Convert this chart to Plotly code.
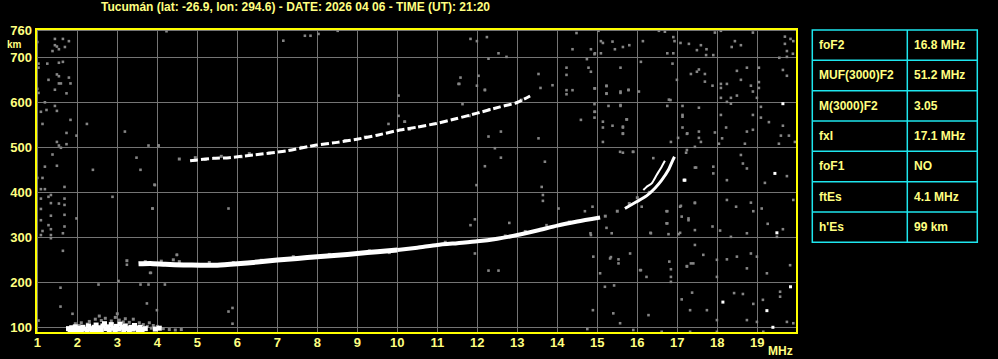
import plotly.graph_objects as go

# ---------------- data ----------------
title_text = "Tucumán (lat: -26.9, lon: 294.6) - DATE: 2026 04 06 - TIME (UT): 21:20"

x_ticks = list(range(1, 21))
y_ticks = [100, 200, 300, 400, 500, 600, 700, 760]

table_labels = ["foF2", "MUF(3000)F2", "M(3000)F2", "fxI", "foF1", "ftEs", "h'Es"]
table_values = ["16.8 MHz", "51.2 MHz", "3.05", "17.1 MHz", "NO", "4.1 MHz", "99 km"]

# main F trace (low part, thick)
f_trace_lo = [3.53, 3.82, 4.2, 4.66, 5.07, 5.5, 6.0, 6.5, 7.0, 7.5, 8.0, 8.5, 9.0, 9.5, 10.0]
h_trace_lo = [241, 242, 240, 238.5, 238, 238, 241, 245, 249.5, 253, 257, 260, 264, 268, 272]
# main F trace (middle)
f_trace_mid = [10.0, 10.5, 11.0, 11.5, 12.0, 12.5, 13.0, 13.5, 14.0, 14.5, 15.07]
h_trace_mid = [272, 277, 283, 287, 291, 297, 305, 315, 326, 335, 344]
# upper end of trace, outer branch
f_trace_hi = [15.69, 15.98, 16.23, 16.44, 16.61, 16.78, 16.88, 16.93]
h_trace_hi = [364, 379, 392, 409, 427, 450, 470, 479]
# inner branch
f_branch = [16.15, 16.23, 16.36, 16.48, 16.61, 16.69]
h_branch = [405, 412, 420, 438, 457, 470]

# second hop trace
f_hop2 = [4.82, 5.0, 5.4, 5.8, 6.4, 7.23, 7.98, 8.5, 8.99, 9.5, 9.99, 10.5, 10.98, 11.49, 12.0, 12.57, 12.98, 13.32]
h_hop2 = [470, 472, 475.5, 477, 483, 492, 505, 511, 518, 527, 537, 545, 553, 564, 576, 590, 599, 614]

# sporadic E cloud
es_white = [(1.78, 97), (1.82, 93), (1.86, 99), (1.9, 95), (1.95, 101), (2.0, 93), (2.04, 98), (2.1, 94),
            (2.14, 100), (2.2, 96), (2.25, 92), (2.28, 103), (2.33, 97), (2.38, 93), (2.42, 100), (2.47, 105),
            (2.5, 95), (2.55, 99), (2.6, 93), (2.64, 103), (2.68, 108), (2.72, 97), (2.77, 101), (2.8, 94),
            (2.85, 106), (2.9, 98), (2.94, 93), (2.98, 102), (3.03, 96), (3.07, 107), (3.12, 100), (3.16, 94),
            (3.2, 103), (3.25, 97), (3.3, 92), (3.34, 100), (3.38, 96), (3.43, 104), (3.48, 98), (3.52, 93),
            (3.57, 100), (3.62, 95), (3.7, 97), (3.95, 96), (4.05, 98)]
es_grey = [(2.1, 110), (2.3, 113), (2.45, 118), (2.6, 115), (2.7, 120), (2.85, 114), (2.95, 122), (3.05, 116),
           (3.15, 112), (3.3, 111), (3.4, 118), (3.55, 110), (3.65, 106), (3.75, 102), (3.85, 98), (3.9, 104),
           (4.0, 102), (4.15, 97), (4.3, 95), (4.45, 94), (4.6, 95), (2.25, 107), (1.95, 108), (3.2, 119),
           (2.55, 125), (3.0, 130), (3.8, 110), (2.05, 104)]

# isolated grey noise specks
noise_grey = [
    (1.44, 741), (1.64, 741), (1.79, 736), (1.44, 727), (1.49, 724), (1.69, 723), (1.54, 718), (1.38, 714),
    (1.0, 734), (1.03, 686), (1.25, 686), (1.54, 688), (1.64, 690), (1.03, 677), (1.49, 662), (1.54, 658),
    (1.79, 655), (1.28, 650), (1.54, 642), (1.59, 642), (1.83, 642), (1.73, 620), (1.03, 621), (1.44, 628),
    (1.0, 630), (1.19, 600), (1.44, 592), (1.23, 583), (1.49, 581), (1.09, 579), (1.83, 561), (1.13, 552),
    (2.24, 552), (1.73, 532), (1.98, 526), (3.19, 535), (1.49, 512), (1.54, 504), (1.59, 499), (1.73, 507),
    (3.78, 504), (4.03, 504), (1.38, 484), (1.19, 457), (1.49, 459), (3.48, 477), (2.39, 450), (3.58, 450),
    (1.13, 432), (1.0, 432), (1.68, 412), (1.09, 407), (1.19, 407), (3.94, 416), (2.88, 390), (1.34, 394),
    (1.28, 390), (1.09, 386), (1.68, 386), (1.34, 376), (1.54, 375), (1.68, 372), (1.09, 363), (3.88, 364),
    (5.78, 364), (1.34, 348), (1.68, 350), (1.98, 342), (1.09, 338), (1.28, 327), (1.68, 324), (1.34, 318),
    (1.13, 314), (1.64, 309), (1.09, 305), (1.34, 305), (1.34, 298), (4.23, 758),
    (1.64, 270), (1.58, 188), (1.58, 146), (2.53, 195), (3.03, 203), (3.24, 239), (3.58, 195), (3.78, 195),
    (4.19, 195), (3.74, 153), (3.99, 138), (3.84, 221), (4.49, 261), (5.78, 135), (5.88, 143), (5.88, 108),
    (1.88, 130), (1.03, 115), (3.93, 417),
    (7.15, 737), (7.69, 748), (7.83, 748), (8.03, 752), (8.51, 759), (11.83, 741), (11.99, 736), (12.24, 745),
    (12.53, 709), (12.73, 701), (12.28, 697), (11.58, 655), (12.03, 659), (11.53, 641), (11.99, 637),
    (12.19, 628), (13.53, 663), (13.58, 632), (13.88, 638), (14.23, 677), (14.23, 661), (14.23, 627),
    (14.38, 627), (14.23, 618), (14.48, 754), (14.38, 718), (14.84, 718), (14.93, 707), (14.74, 696),
    (14.78, 677), (14.84, 668), (14.93, 631), (14.93, 596), (14.93, 579), (14.93, 566), (14.59, 561),
    (10.03, 615), (10.03, 570), (11.63, 596), (9.78, 552), (10.18, 557),
    (15.03, 759), (16.54, 759), (16.69, 757), (18.09, 759), (17.94, 755), (18.89, 755), (15.09, 736),
    (15.14, 732), (15.38, 735), (16.14, 736), (14.94, 709), (15.44, 718), (15.64, 723), (15.8, 727),
    (15.09, 709), (16.9, 745), (16.93, 736), (16.75, 709), (16.9, 709), (17.08, 732), (17.29, 730),
    (17.49, 716), (17.59, 727), (17.73, 718), (17.72, 705), (17.9, 705), (18.36, 723), (18.44, 736),
    (18.59, 727), (19.69, 746), (19.69, 730), (19.83, 741), (19.9, 736), (19.74, 714), (19.74, 701),
    (19.89, 708), (19.55, 699), (15.58, 677), (16.09, 690), (16.88, 686), (17.34, 663), (17.49, 668),
    (17.54, 673), (17.69, 663), (17.69, 646), (17.88, 637), (18.09, 641), (18.09, 632), (18.24, 641),
    (18.49, 670), (18.74, 677), (18.59, 650), (18.84, 637), (19.04, 677), (19.04, 645), (19.04, 632),
    (18.89, 624), (19.64, 672), (19.74, 659), (16.99, 650), (16.04, 624), (15.23, 637), (15.23, 619),
    (15.58, 624), (15.78, 628), (18.09, 610), (18.24, 601), (18.34, 610), (18.34, 597), (18.49, 615),
    (18.99, 610), (17.13, 592), (17.54, 588), (16.79, 606), (16.75, 592), (15.28, 592), (15.58, 592),
    (15.14, 557), (15.14, 544), (15.38, 548), (15.64, 544), (15.74, 562), (15.64, 530), (15.14, 512),
    (17.13, 572), (17.13, 544), (17.24, 530), (17.54, 535), (17.54, 521), (17.59, 512), (17.02, 521),
    (16.84, 512), (17.94, 533), (18.09, 572), (18.22, 544), (18.12, 520), (18.74, 535), (18.89, 539),
    (18.89, 572), (19.09, 590), (19.09, 566), (19.29, 556), (19.64, 548), (19.59, 526), (19.79, 526),
    (19.94, 512), (19.54, 508), (18.69, 508), (18.04, 508),
    (15.64, 488), (15.89, 490), (17.24, 494), (17.44, 455), (17.9, 457), (17.9, 442), (18.24, 427),
    (18.64, 464), (18.74, 453), (18.59, 483), (19.19, 421), (19.74, 436), (19.9, 383), (17.44, 376),
    (17.07, 368), (17.28, 338), (16.75, 358), (16.75, 331), (16.33, 310), (17.07, 310), (17.44, 316),
    (17.88, 324), (18.24, 383), (18.47, 368), (18.84, 377), (18.9, 358), (19.11, 364), (19.26, 330),
    (19.49, 301), (19.64, 318), (18.74, 309), (18.34, 301), (18.07, 315), (15.23, 321), (15.36, 309),
    (14.84, 305), (15.34, 256), (15.53, 251), (16.09, 227), (16.84, 212), (16.84, 229), (17.24, 236),
    (17.34, 242), (17.65, 261), (17.99, 250), (17.99, 212), (18.24, 251), (18.49, 257), (18.74, 231),
    (18.84, 264), (18.99, 257), (19.82, 238), (19.24, 220), (19.57, 179), (15.19, 190), (15.42, 193),
    (16.84, 201), (17.37, 177), (18.42, 176), (18.64, 174), (18.9, 152), (19.14, 161), (19.57, 168),
    (19.74, 112), (19.9, 109), (18.99, 112), (18.74, 116), (17.99, 116), (17.74, 138), (17.32, 138),
    (17.11, 162), (16.28, 127), (15.57, 109), (15.4, 131), (14.89, 138), (14.75, 96), (15.9, 94),
    (16.61, 90), (17.32, 90), (17.99, 90), (19.15, 90), (16.23, 212), (15.07, 220), (14.9, 257),
    (11.55, 641), (12.19, 627), (12.28, 524), (12.59, 535), (13.53, 520), (12.44, 498), (12.59, 477),
    (13.69, 468), (12.19, 458), (11.98, 416), (13.61, 412), (13.64, 394), (13.64, 381), (14.03, 364),
    (14.69, 358), (14.88, 368), (11.94, 340), (11.83, 327), (12.8, 332), (13.73, 327), (14.83, 309),
    (11.94, 264), (12.28, 226), (12.53, 226), (14.94, 579), (15.23, 636), (15.23, 620), (14.94, 631),
    (15.58, 621), (15.58, 594), (15.78, 627), (15.73, 562), (15.64, 546), (15.64, 531), (15.57, 490),
    (15.9, 490), (16.4, 476), (16.83, 605), (17.13, 568), (17.25, 531), (17.44, 501), (17.47, 455),
    (17.22, 488), (17.09, 370), (17.11, 346), (17.28, 342), (17.44, 377), (16.73, 358), (16.73, 331),
    (16.78, 307), (17.03, 307), (16.34, 309), (16.11, 368), (15.82, 264), (15.32, 253), (15.53, 242),
    (16.07, 227), (16.8, 246), (17.24, 235), (17.4, 242), (17.44, 283),
    (10.19, 557), (4.03, 504), (3.88, 364), (4.49, 261), (3.82, 221),
]
noise_white = [(19.64, 597), (19.44, 442), (17.17, 427), (17.19, 427), (19.83, 190), (18.14, 156),
               (19.24, 137), (19.39, 100), (19.49, 310)]

# grey fringe specks around the traces
fringe_grey = [(3.24, 248), (3.7, 246), (4.1, 247), (4.4, 250), (4.55, 246), (5.3, 244), (5.9, 244),
               (6.6, 249), (7.4, 257), (8.3, 262), (9.3, 270), (9.8, 266), (11.2, 289), (12.7, 303),
               (13.2, 313), (14.3, 334), (15.2, 347), (15.5, 358), (15.8, 375), (16.0, 388), (16.3, 400),
               (4.55, 474), (4.95, 477), (5.2, 473), (5.6, 480), (6.1, 479), (6.3, 486), (6.8, 487),
               (7.6, 500), (8.7, 515), (9.2, 523), (10.3, 540), (11.8, 570), (12.3, 584), (13.1, 605)]

# ---------------- layout geometry ----------------
W, H = 998, 359
L, R, T, B = 36, 201, 29, 26
PW, PH = W - L - R, H - T - B
TXT = "#FFFF80"
YEL = "#FFFF00"
GRID = "#747474"
NOISE = "#858585"
CYAN = "#1EE6EE"
FONT = "Liberation Sans"


def px(xp):
    return (xp - L) / PW


def py(yp):
    return 1 - (yp - T) / PH


fig = go.Figure()


def pts(pairs, color, size, symbol="square"):
    fig.add_trace(go.Scatter(x=[p[0] for p in pairs], y=[p[1] for p in pairs], mode="markers",
                             marker=dict(color=color, size=size, symbol=symbol, line=dict(width=0)),
                             hoverinfo="skip", showlegend=False))


def line(xs, ys, color, width, dash="solid"):
    fig.add_trace(go.Scatter(x=xs, y=ys, mode="lines", line=dict(color=color, width=width, dash=dash,
                                                                   shape="spline", smoothing=0.6),
                             hoverinfo="skip", showlegend=False))


pts(noise_grey, NOISE, 2.6)
pts(fringe_grey, NOISE, 3)
pts(es_grey, NOISE, 3)
pts(es_white, "white", 5)
pts(noise_white, "white", 3)

line(f_trace_lo, h_trace_lo, "white", 5)
line(f_trace_mid, h_trace_mid, "white", 4)
line(f_trace_hi, h_trace_hi, "white", 3)
line(f_branch, h_branch, "white", 2)
line(f_hop2, h_hop2, "white", 3, dash="8px,3px")

fig.update_xaxes(range=[1 - 1.3 / 40, 1 + 759.7 / 40], tickvals=x_ticks, ticktext=[str(v) for v in x_ticks],
                 showgrid=True, gridcolor=GRID, gridwidth=1, zeroline=False, showline=False,
                 ticks="", tickfont=dict(family=FONT, size=13, color=TXT, weight="bold"), ticklabelstandoff=0)
fig.update_yaxes(range=[87.3, 763.0], tickvals=y_ticks, ticktext=[str(v) for v in y_ticks],
                 showgrid=True, gridcolor=GRID, gridwidth=1, zeroline=False, showline=False,
                 ticks="", tickfont=dict(family=FONT, size=13, color=TXT, weight="bold"), ticklabelstandoff=3)

shapes = [dict(type="rect", xref="paper", yref="paper", x0=0, x1=1, y0=0, y1=1,
               line=dict(color=YEL, width=2), fillcolor="rgba(0,0,0,0)", layer="above")]

# table on the right
tx0, tx1, tx2 = 812.3, 907.3, 977.3
row_top = 30.0
row_h = 30.33
nrows = len(table_labels)
shapes.append(dict(type="rect", xref="paper", yref="paper", x0=px(tx0), x1=px(tx2), y0=py(row_top),
                   y1=py(row_top + nrows * row_h), line=dict(color=CYAN, width=1.5)))
shapes.append(dict(type="line", xref="paper", yref="paper", x0=px(tx1), x1=px(tx1), y0=py(row_top),
                   y1=py(row_top + nrows * row_h), line=dict(color=CYAN, width=1.5)))
annotations = []
for i, (lab, val) in enumerate(zip(table_labels, table_values)):
    if i > 0:
        yy = py(row_top + i * row_h)
        shapes.append(dict(type="line", xref="paper", yref="paper", x0=px(tx0), x1=px(tx2), y0=yy, y1=yy,
                           line=dict(color=CYAN, width=1.5)))
    yc = py(row_top + (i + 0.5) * row_h)
    annotations.append(dict(text=lab, xref="paper", yref="paper", x=px(tx0 + 5), y=yc, xanchor="left",
                            yanchor="middle", showarrow=False,
                            font=dict(family=FONT, size=12, color=TXT, weight="bold")))
    annotations.append(dict(text=val, xref="paper", yref="paper", x=px(tx1 + 5), y=yc, xanchor="left",
                            yanchor="middle", showarrow=False,
                            font=dict(family=FONT, size=12, color=TXT, weight="bold")))

annotations.append(dict(text=title_text, xref="paper", yref="paper", x=px(295), y=py(7), xanchor="center",
                        yanchor="middle", showarrow=False,
                        font=dict(family=FONT, size=12, color=TXT, weight="bold")))
annotations.append(dict(text="km", xref="paper", yref="paper", x=px(14), y=py(45), xanchor="center",
                        yanchor="middle", showarrow=False,
                        font=dict(family=FONT, size=10, color=TXT, weight="bold")))
annotations.append(dict(text="MHz", xref="paper", yref="paper", x=px(780), y=py(351), xanchor="center",
                        yanchor="middle", showarrow=False,
                        font=dict(family=FONT, size=12, color=TXT, weight="bold")))

fig.update_layout(width=W, height=H, margin=dict(l=L, r=R, t=T, b=B, pad=0, autoexpand=False),
                  paper_bgcolor="black", plot_bgcolor="black", shapes=shapes, annotations=annotations,
                  showlegend=False)

fig.write_html("out.html", config={"displayModeBar": False})
